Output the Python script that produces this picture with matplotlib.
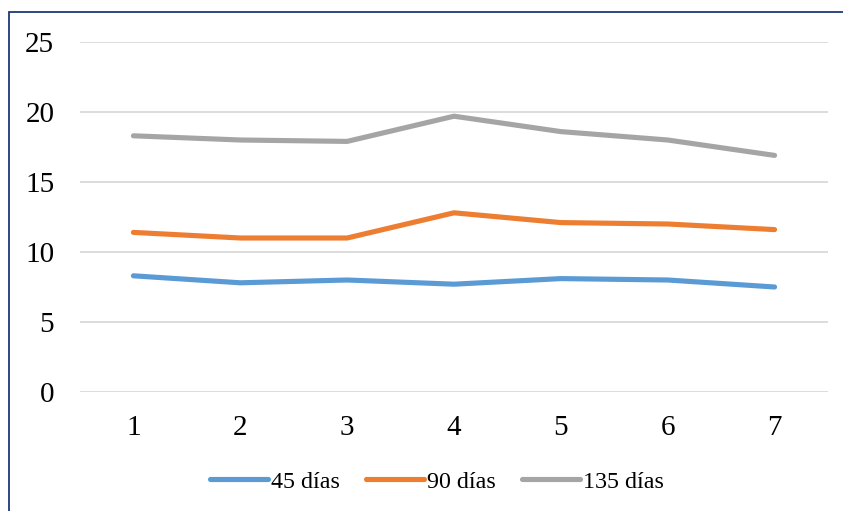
import matplotlib
matplotlib.use("Agg")
import matplotlib.pyplot as plt
from matplotlib.patches import Rectangle

# sampling points and the three series
muestras = [1, 2, 3, 4, 5, 6, 7]
dias_45 = [8.3, 7.8, 8.0, 7.7, 8.1, 8.0, 7.5]
dias_90 = [11.4, 11.0, 11.0, 12.8, 12.1, 12.0, 11.6]
dias_135 = [18.3, 18.0, 17.9, 19.7, 18.6, 18.0, 16.9]
etiquetas = ["45 días", "90 días", "135 días"]
colores = ["#5B9BD5", "#ED7D31", "#A5A5A5"]

plt.rcParams['font.family'] = ['Liberation Serif', 'DejaVu Serif']

fig = plt.figure(figsize=(8.43, 5.11), dpi=100)
ax = fig.add_axes([80 / 843, 1 - 392 / 511, 748 / 843, 350 / 511])

for serie, nombre, color in zip([dias_45, dias_90, dias_135], etiquetas, colores):
    ax.plot(muestras, serie, color=color, linewidth=3.7, label=nombre,
            solid_capstyle='round', solid_joinstyle='round')

ax.set_xlim(0.5, 7.5)
ax.set_ylim(0, 25)
ax.set_xticks(muestras)
ax.set_yticks(range(0, 26, 5))

ax.yaxis.grid(True, color="#D9D9D9", linewidth=1.3)
ax.set_axisbelow(True)
for s in ax.spines.values():
    s.set_visible(False)
ax.tick_params(axis='both', length=0, labelsize=21, colors='black')
ax.tick_params(axis='y', pad=18.5)
ax.tick_params(axis='x', pad=16.5)

leg = fig.legend(loc='center', bbox_to_anchor=(437 / 843, 1 - 482 / 511), ncol=3,
                 frameon=False, fontsize=17.3, handlelength=2.4, handletextpad=0.12,
                 columnspacing=1.1)
for l in leg.get_lines():
    l.set_linewidth(3.7)
    l.set_solid_capstyle('round')

# dark outline on the chart area
fig.patches.append(Rectangle((8.5 / 843, -0.1), 1.2, 1 - 12.5 / 511 + 0.1,
                             transform=fig.transFigure, fill=False,
                             edgecolor="#1F3877", linewidth=1.3))

fig.savefig("out.png", dpi=100)
